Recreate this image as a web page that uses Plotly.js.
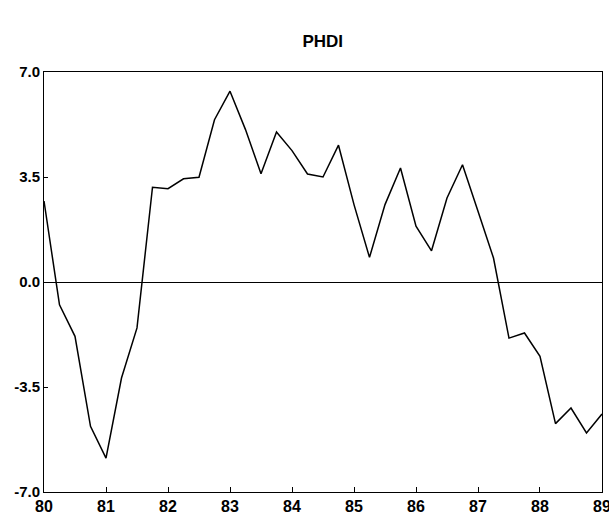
<!DOCTYPE html>
<html>
<head>
<meta charset="utf-8">
<script src="https://cdn.plot.ly/plotly-3.0.1.min.js"></script>
<style>html,body{margin:0;padding:0;background:#fff;}#chart{width:609px;height:514px;}</style>
</head>
<body>
<div id="chart"></div>
<script>
// Quarterly time (years, 1980 = 80) and PHDI values
const years = [80.0, 80.25, 80.5, 80.75, 81.0, 81.25, 81.5, 81.75,
               82.0, 82.25, 82.5, 82.75, 83.0, 83.25, 83.5, 83.75,
               84.0, 84.25, 84.5, 84.75, 85.0, 85.25, 85.5, 85.75,
               86.0, 86.25, 86.5, 86.75, 87.0, 87.25, 87.5, 87.75,
               88.0, 88.25, 88.5, 88.75, 89.0];
const phdi = [2.7, -0.76, -1.81, -4.81, -5.87, -3.2, -1.53, 3.16,
              3.11, 3.44, 3.49, 5.41, 6.36, 5.08, 3.61, 5.0,
              4.38, 3.6, 3.5, 4.56, 2.58, 0.82, 2.58, 3.8,
              1.86, 1.04, 2.8, 3.91, 2.36, 0.8, -1.87, -1.7,
              -2.48, -4.72, -4.2, -5.03, -4.4];
const xTickVals = [80, 81, 82, 83, 84, 85, 86, 87, 88, 89];
const xTickText = ['80', '81', '82', '83', '84', '85', '86', '87', '88', '89'];
const yTickVals = [-7, -3.5, 0, 3.5, 7];
const yTickText = ['-7.0', '-3.5', '0.0', '3.5', '7.0'];

const trace = {
  x: years, y: phdi, type: 'scatter', mode: 'lines',
  line: {color: '#000', width: 1.5}, hoverinfo: 'skip'
};
const xFont = {family: 'Liberation Sans, Arial, sans-serif', size: 16, color: '#000', weight: 'bold'};
const yFont = {family: 'Liberation Sans, Arial, sans-serif', size: 15, color: '#000', weight: 'bold'};
const layout = {
  width: 609, height: 514,
  margin: {l: 44, r: 7, t: 72, b: 22, pad: 0},
  paper_bgcolor: '#fff', plot_bgcolor: '#fff',
  showlegend: false,
  title: {text: '<b>PHDI</b>', x: 0.53, xanchor: 'center', y: 0.92, yanchor: 'middle',
          font: {family: 'Liberation Sans, Arial, sans-serif', size: 17, color: '#000'}},
  xaxis: {range: [80, 89.0001], tickvals: xTickVals, ticktext: xTickText,
          ticks: 'inside', ticklen: 5, tickcolor: '#000', tickwidth: 1,
          showline: true, linecolor: '#000', linewidth: 1, mirror: true,
          showgrid: false, zeroline: false, tickfont: xFont, ticklabelstandoff: 0,
          ticklabeloverflow: 'allow', automargin: false},
  yaxis: {range: [-7, 7], tickvals: yTickVals, ticktext: yTickText,
          ticks: 'inside', ticklen: 4, tickcolor: '#000', tickwidth: 1,
          showline: true, linecolor: '#000', linewidth: 1, mirror: true,
          showgrid: false, zeroline: true, zerolinecolor: '#000', zerolinewidth: 1,
          tickfont: yFont, automargin: false}
};
Plotly.newPlot('chart', [trace], layout, {displayModeBar: false, staticPlot: true});
</script>
</body>
</html>
